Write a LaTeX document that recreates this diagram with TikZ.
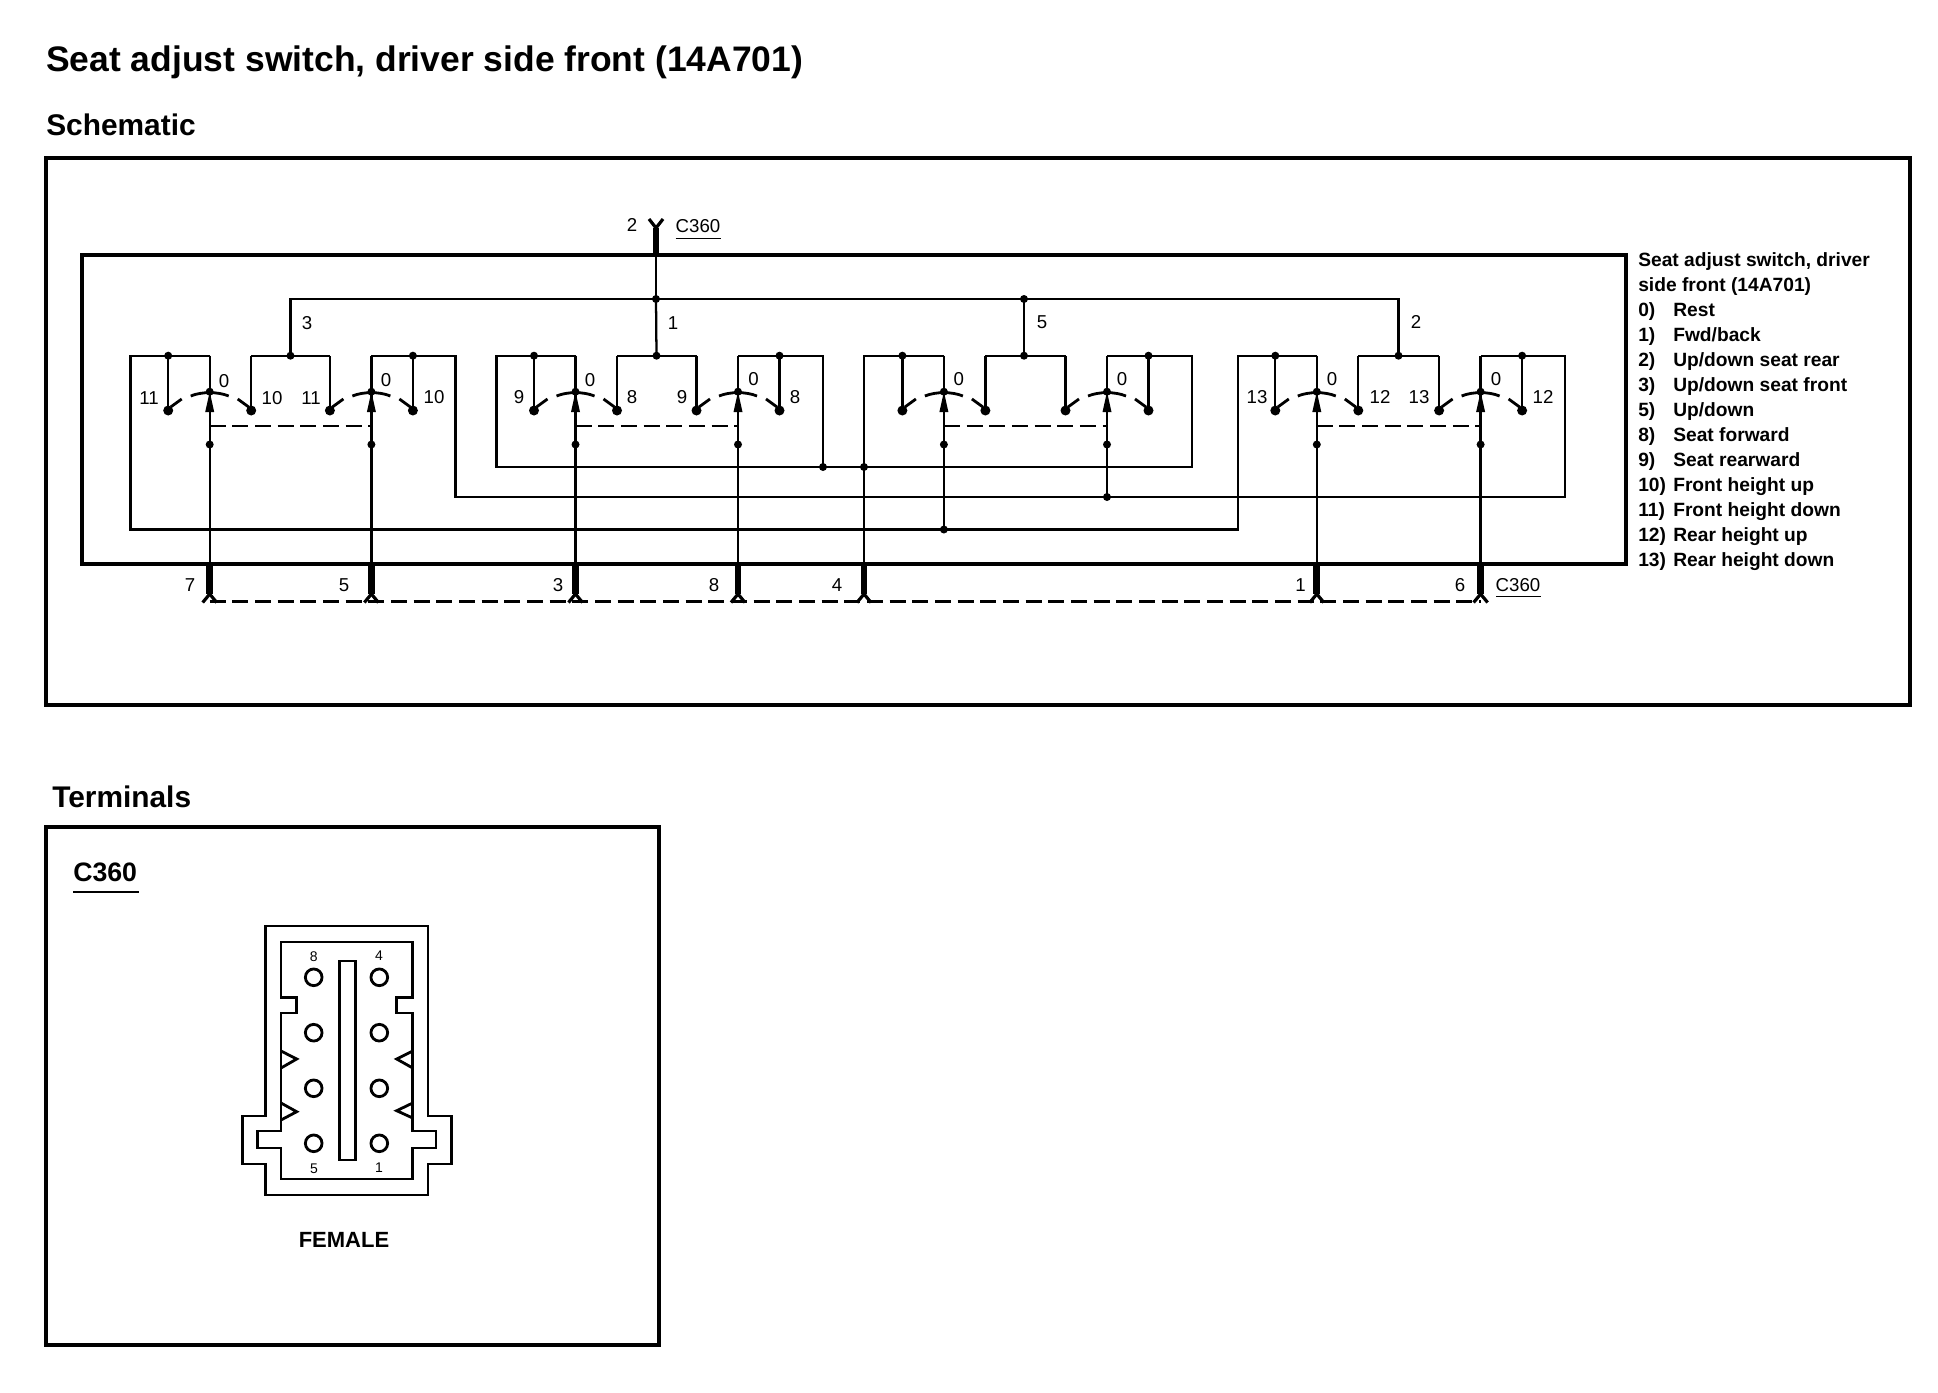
\documentclass[tikz,border=0pt]{standalone}
\usepackage{fontspec}
\setmainfont{Liberation Sans}
\newcommand{\fz}[1]{\fontsize{#1}{#1}\selectfont}
\tikzset{
  x=0.75pt,y=-0.75pt,
  wire/.style={line width=1.7pt,line join=miter},
  heavy/.style={line width=3.2pt,line join=miter,line cap=rect},
  frame/.style={line width=3.5pt,line join=miter},
  pinbar/.style={line width=5pt},
  forkline/.style={line width=2.4pt},
  linkd/.style={line width=2pt,dash pattern=on 12pt off 5pt},
  swarc/.style={line width=2.1pt},
  jdot/.style={circle,fill=black,inner sep=0pt,minimum size=6pt},
  cdot/.style={circle,fill=black,inner sep=0pt,minimum size=7.5pt},
  lbl/.style={inner sep=0pt,font=\fz{14},text height=0.72em,text depth=0pt},
  leg/.style={inner sep=0pt,anchor=west,font=\bfseries\fz{14.4},text height=0.72em,text depth=0pt},
  head/.style={inner sep=0pt,anchor=west,font=\bfseries\fz{26.6},text height=0.72em,text depth=0pt},
  subhead/.style={inner sep=0pt,anchor=west,font=\bfseries\fz{22.4},text height=0.72em,text depth=0pt},
  cable/.style={line width=2.1pt,line join=miter},
  ulin/.style={line width=1pt},
}
\newcommand{\Sw}[2]{%
  \coordinate (#1-t) at (#2,355.7);
  \coordinate (#1-lt) at ({#2-41.5},355.7);
  \coordinate (#1-rt) at ({#2+41.5},355.7);
  \coordinate (#1-x) at (#2,426);
  \node[cdot] (#1-l) at ({#2-41.5},410.5) {};
  \node[cdot] (#1-r) at ({#2+41.5},410.5) {};
  \node[jdot] (#1-c) at (#2,391.7) {};
  \node[jdot] (#1-d) at (#2,444.5) {};
  \draw[wire] (#1-t) -- (#1-c.center);
  \draw[wire] (#1-c.center) -- (#1-d.center);
  \draw[wire] (#1-l.center) -- (#1-lt);
  \draw[wire] (#1-r.center) -- (#1-rt);
  \fill ({#2},391.7) -- ({#2+4.5},412) -- ({#2-4.5},412) -- cycle;
  \draw[swarc] ({#2-19},396) .. controls ({#2-8},391.5) and ({#2+8},391.5) .. ({#2+19},396);
  \draw[swarc] ({#2-28},399) -- ({#2-39},407);
  \draw[swarc] ({#2+28},399) -- ({#2+39},407);
}
\newcommand{\Pin}[4]{%
  \coordinate (#1-a) at (#2,564);
  \coordinate (#1-b) at (#2,594);
  \coordinate (#1-e) at (#2,601.5);
  \draw[pinbar] (#1-a) -- (#1-b);
  \draw[forkline] (#1-b) -- ++(-7,8.5);
  \draw[forkline] (#1-b) -- ++(7,8.5);
  \node[lbl] (#1-n) at (#3,586.5) {#4};
}
\begin{document}
\begin{tikzpicture}
\useasboundingbox (0,0) rectangle (1938,1392);
% headings
\node[head] (title) at (46,66.5) {Seat adjust switch, driver side front (14A701)};
\node[subhead] (schem) at (46,131) {Schematic};
\node[subhead] (term) at (52,803) {Terminals};
% frames
\draw[frame] (46,158) rectangle (1910,705);
\draw[frame] (46,827) rectangle (659,1345);
\draw[heavy] (82,255) rectangle (1626,564);
% switches
\Sw{a}{209.7}\Sw{b}{371.4}
\Sw{c}{575.5}\Sw{d}{738}
\Sw{e}{943.9}\Sw{f}{1107}
\Sw{g}{1316.8}\Sw{h}{1480.6}
% corners
\coordinate (a1) at (130.6,355.7);\coordinate (a2) at (130.6,529.5);\coordinate (a3) at (1238,529.5);\coordinate (a4) at (1238,355.7);
\coordinate (b1) at (455.6,355.7);\coordinate (b2) at (455.6,497);\coordinate (b3) at (1565,497);\coordinate (b4) at (1565,355.7);
\coordinate (c1) at (496.4,355.7);\coordinate (c2) at (496.4,467);\coordinate (c3) at (1191.8,467);\coordinate (c4) at (1191.8,355.7);
\node[jdot] (dj) at (823,467) {};
\node[jdot] (ej) at (864,467) {};
\node[jdot] (fj) at (1107,497) {};
\node[jdot] (gj) at (943.9,529.5) {};
\coordinate (d1) at (823,355.7);\coordinate (e1) at (864,355.7);
% switch loops
\draw[wire] (a-t) -- (a-lt) -- (a1) -- (a2) -- (a3) -- (a4) -- (g-lt) -- (g-t);
\draw[wire] (b-t) -- (b-rt) -- (b1) -- (b2) -- (b3) -- (b4) -- (h-rt) -- (h-t);
\draw[wire] (c-t) -- (c-lt) -- (c1) -- (c2) -- (c3) -- (c4) -- (f-rt) -- (f-t);
\draw[wire] (d-t) -- (d-rt) -- (d1) -- (dj.center);
\draw[wire] (e-t) -- (e-lt) -- (e1) -- (ej.center);
\draw[wire] (f-d.center) -- (fj.center);
\draw[wire] (e-d.center) -- (gj.center);
% bridges and bus
\node[jdot] (abj) at (290.5,355.7) {};
\node[jdot] (cdj) at (656.5,355.7) {};
\node[jdot] (efj) at (1024,355.7) {};
\node[jdot] (ghj) at (1398.5,355.7) {};
\draw[wire] (a-rt) -- (b-lt);
\draw[wire] (c-rt) -- (d-lt);
\draw[wire] (e-rt) -- (f-lt);
\draw[wire] (g-rt) -- (h-lt);
\node[jdot] (bus1) at (656,299) {};
\node[jdot] (bus5) at (1024,299) {};
\coordinate (busl) at (290.5,299);
\coordinate (busr) at (1398.5,299);
\draw[wire] (abj.center) -- (busl) -- (busr) -- (ghj.center);
\draw[wire] (cdj.center) -- (bus1.center);
\draw[wire] (efj.center) -- (bus5.center);
% stub junction dots
\foreach \n/\xx in {al/168.2,br/412.9,cl/534,dr/779.5,el/902.4,fr/1148.5,gl/1275.3,hr/1522.1}
  \node[jdot] (top-\n) at (\xx,355.7) {};
% ganged dashes
\draw[linkd] (a-x) -- (b-x);
\draw[linkd] (c-x) -- (d-x);
\draw[linkd] (e-x) -- (f-x);
\draw[linkd] (g-x) -- (h-x);
% top connector
\coordinate (tp-a) at (656,255);
\coordinate (tp-b) at (656,228);
\draw[wire] (bus1.center) -- (tp-a);
\draw[pinbar] (tp-a) -- (tp-b);
\draw[forkline] (tp-b) -- ++(-7,-9);
\draw[forkline] (tp-b) -- ++(7,-9);
\node[lbl] (tp-n) at (632,227) {2};
\node[lbl] (tp-c) at (698,228) {C360};
\draw[ulin] (675.5,238.7) -- (721,238.7);
% bottom pins
\Pin{p7}{209.7}{190}{7}
\Pin{p5}{371.4}{344}{5}
\Pin{p3}{575.5}{558}{3}
\Pin{p8}{738}{714}{8}
\Pin{p4}{864}{837}{4}
\Pin{p1}{1316.8}{1300.5}{1}
\Pin{p6}{1480.6}{1460}{6}
\draw[wire] (a-d.center) -- (p7-a);
\draw[wire] (b-d.center) -- (p5-a);
\draw[wire] (c-d.center) -- (p3-a);
\draw[wire] (d-d.center) -- (p8-a);
\draw[wire] (ej.center) -- (p4-a);
\draw[wire] (g-d.center) -- (p1-a);
\draw[wire] (h-d.center) -- (p6-a);
\draw[linkd] (p7-e) -- (p6-e);
\node[lbl] (bc) at (1518,587) {C360};
\draw[ulin] (1496,596.7) -- (1541,596.7);
% wire labels
\node[lbl] (w3) at (307,325) {3};
\node[lbl] (w1) at (673,325) {1};
\node[lbl] (w5) at (1042,324) {5};
\node[lbl] (w2) at (1416,324) {2};
% contact labels
\node[lbl] (t1) at (149,400) {11};
\node[lbl] (t2) at (224,383) {0};
\node[lbl] (t3) at (272,400) {10};
\node[lbl] (t4) at (311,400) {11};
\node[lbl] (t5) at (386,382) {0};
\node[lbl] (t6) at (434,399) {10};
\node[lbl] (t7) at (519,399) {9};
\node[lbl] (t8) at (590,382) {0};
\node[lbl] (t9) at (632,399) {8};
\node[lbl] (t10) at (682,399) {9};
\node[lbl] (t11) at (753.5,381) {0};
\node[lbl] (t12) at (795,398.5) {8};
\node[lbl] (t13) at (958.7,381) {0};
\node[lbl] (t14) at (1122,381) {0};
\node[lbl] (t15) at (1257,398.5) {13};
\node[lbl] (t16) at (1332,381) {0};
\node[lbl] (t17) at (1380,398.5) {12};
\node[lbl] (t18) at (1419,398.5) {13};
\node[lbl] (t19) at (1496,381) {0};
\node[lbl] (t20) at (1543,398.5) {12};
% legend
\node[leg] (l0) at (1638,262) {Seat adjust switch, driver};
\node[leg] (l00) at (1638,287) {side front (14A701)};
\foreach \k/\num/\txt/\yy in {a/0)/Rest/312,b/1)/Fwd\slash back/337,c/2)/Up\slash down seat rear/362,d/3)/Up\slash down seat front/387,e/5)/Up\slash down/412,f/8)/Seat forward/437,g/9)/Seat rearward/462,h/10)/Front height up/487,i/11)/Front height down/512,j/12)/Rear height up/537,k/13)/Rear height down/562}{
  \node[leg] (ln\k) at (1638,\yy) {\num};
  \node[leg] (lt\k) at (1673,\yy) {\txt};
}
% terminals
\node[inner sep=0pt,anchor=west,font=\bfseries\fz{20},text height=0.72em,text depth=0pt] (cc) at (73,877) {C360};
\draw[ulin] (73,892) -- (139,892);
\draw[cable] (265.7,926) -- (428,926) -- (428,1116) -- (451.7,1116) -- (451.7,1164) -- (428,1164) -- (428,1195) -- (265.7,1195) -- (265.7,1164) -- (242.7,1164) -- (242.7,1116) -- (265.7,1116) -- cycle;
\draw[cable] (281,942) -- (412.7,942) -- (412.7,997.7) -- (396.7,997.7) -- (396.7,1013) -- (412.7,1013) -- (412.7,1131) -- (436,1131) -- (436,1148) -- (412.7,1148) -- (412.7,1179) -- (281,1179) -- (281,1148) -- (257.7,1148) -- (257.7,1131) -- (281,1131) -- (281,1013) -- (296.7,1013) -- (296.7,997.7) -- (281,997.7) -- cycle;
\draw[cable] (281,1051) -- (296.7,1059) -- (281,1068);
\draw[cable] (281,1103) -- (296.7,1111.7) -- (281,1120);
\draw[cable] (412.7,1051) -- (396.7,1059) -- (412.7,1068);
\draw[cable] (412.7,1103) -- (396.7,1110.7) -- (412.7,1118);
\draw[cable] (339.3,961) rectangle (355.7,1160);
\foreach \cx/\a in {313.7/l,379.3/r}
  \foreach \cy/\b in {977.3/1,1032.7/2,1088.3/3,1143.3/4}
    \node[draw,cable,circle,inner sep=0pt,minimum size=12.5pt] (h\a\b) at (\cx,\cy) {};
\node[lbl,font=\fz{10.5}] (n8) at (313.7,957) {8};
\node[lbl,font=\fz{10.5}] (n4) at (379,956) {4};
\node[lbl,font=\fz{10.5}] (n5) at (314,1169) {5};
\node[lbl,font=\fz{10.5}] (n1) at (379,1168) {1};
\node[lbl,font=\bfseries\fz{16.5}] (fem) at (344,1243) {FEMALE};
\end{tikzpicture}
\end{document}
